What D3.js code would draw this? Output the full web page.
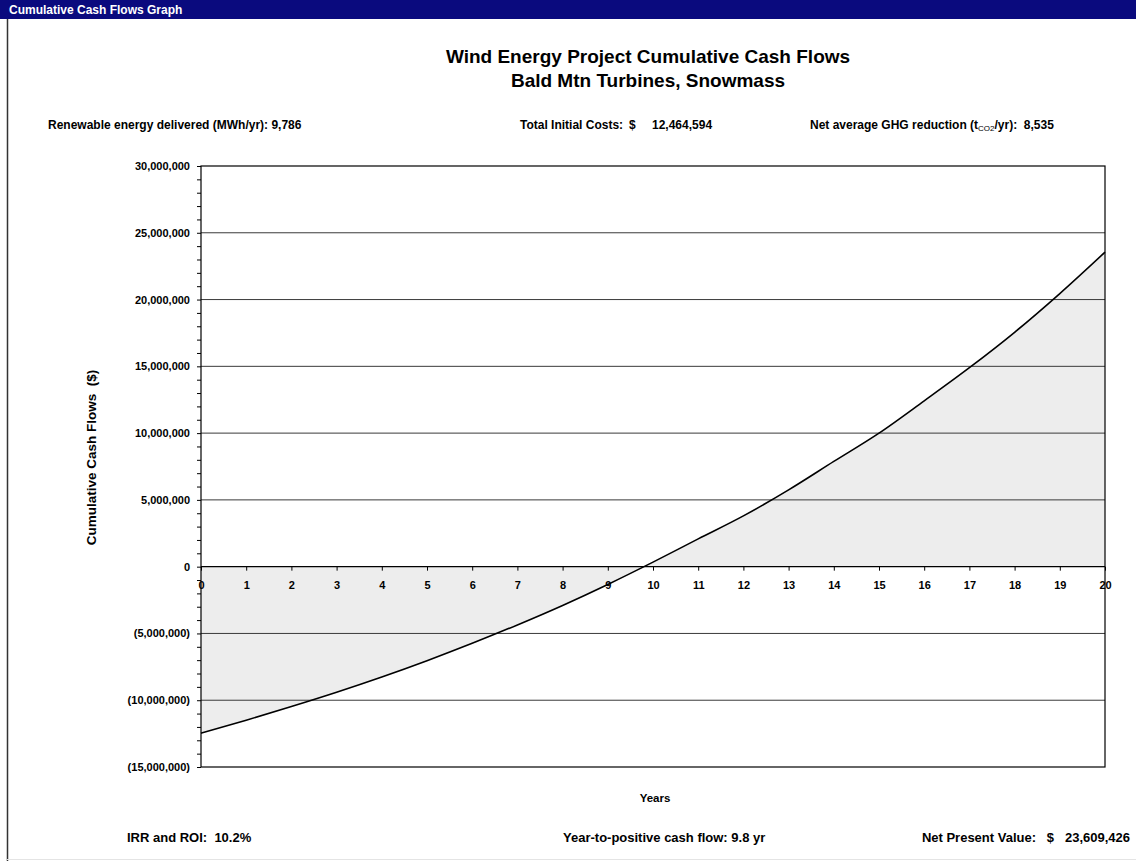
<!DOCTYPE html>
<html>
<head>
<meta charset="utf-8">
<script src="https://cdn.jsdelivr.net/npm/d3@7"></script>
<style>
  html, body { margin: 0; padding: 0; background: #ffffff; }
  svg { display: block; font-family: "Liberation Sans", Arial, Helvetica, sans-serif; }
  svg text { white-space: pre; }
</style>
</head>
<body>
<svg id="chart" width="1136" height="861"></svg>
<script>
// Project years and the cumulative cash position at the end of each year ($)
const years = [0, 1, 2, 3, 4, 5, 6, 7, 8, 9, 10, 11, 12, 13, 14, 15, 16, 17, 18, 19, 20];
const cumulativeCashFlow = [
  -12464594, -11500000, -10470000, -9400000, -8260000, -7040000, -5740000,
  -4360000, -2900000, -1330000, 340000, 2080000, 3800000, 5750000,
  7880000, 10000000, 12420000, 14900000, 17550000, 20450000, 23550000
];

// Axis ticks
const yMajorTicks = [30000000, 25000000, 20000000, 15000000, 10000000, 5000000, 0,
                     -5000000, -10000000, -15000000];
const yMinorStep = 1000000;

// Summary figures shown above and below the plot
const renewableEnergy = "9,786";
const totalInitialCosts = "12,464,594";
const ghgReduction = "8,535";
const irrRoi = "10.2%";
const yearToPositive = "9.8 yr";
const netPresentValue = "23,609,426";

const svg = d3.select("#chart");
const W = 1136, H = 861;

// Window frame: title bar and left edge
svg.append("rect").attr("x", 0).attr("y", 0).attr("width", W).attr("height", H).attr("fill", "#ffffff");
svg.append("rect").attr("x", 0).attr("y", 0).attr("width", W).attr("height", 19).attr("fill", "#0a0a7e");
svg.append("text").attr("x", 9).attr("y", 14)
  .attr("fill", "#ffffff").attr("font-weight", "bold").attr("font-size", 12)
  .text("Cumulative Cash Flows Graph");
svg.append("line").attr("x1", 7.5).attr("x2", 7.5).attr("y1", 19).attr("y2", H)
  .attr("stroke", "#333").attr("stroke-width", 1.5);
svg.append("line").attr("x1", 7).attr("x2", W).attr("y1", 859.5).attr("y2", 859.5)
  .attr("stroke", "#e4e4e4").attr("stroke-width", 1);

// Chart title
svg.append("text").attr("x", 648).attr("y", 63).attr("text-anchor", "middle")
  .attr("font-weight", "bold").attr("font-size", 19)
  .text("Wind Energy Project Cumulative Cash Flows");
svg.append("text").attr("x", 648).attr("y", 87).attr("text-anchor", "middle")
  .attr("font-weight", "bold").attr("font-size", 19)
  .text("Bald Mtn Turbines, Snowmass");

// Header figures
const info = svg.append("g").attr("font-weight", "bold").attr("font-size", 12).attr("fill", "#000");
info.append("text").attr("x", 48).attr("y", 129)
  .text("Renewable energy delivered (MWh/yr): " + renewableEnergy);
info.append("text").attr("x", 520).attr("y", 129).text("Total Initial Costs:");
info.append("text").attr("x", 629).attr("y", 129).text("$");
info.append("text").attr("x", 652).attr("y", 129).text(totalInitialCosts);
const ghg = info.append("text").attr("x", 810).attr("y", 129);
ghg.append("tspan").text("Net average GHG reduction (t");
ghg.append("tspan").attr("font-size", 8).attr("dy", 2).attr("font-weight", "normal").text("CO2");
ghg.append("tspan").attr("dy", -2).text("/yr):  " + ghgReduction);

// Plot area
const plot = { left: 201, right: 1105, top: 166, bottom: 767 };
const x = d3.scaleLinear().domain([0, 20]).range([plot.left, plot.right]);
const y = d3.scaleLinear().domain([-15000000, 30000000]).range([plot.bottom, plot.top]);

const gridValues = yMajorTicks.filter(v => v !== 30000000 && v !== -15000000 && v !== 0);

// Shaded area between the cash-flow curve and zero
const pts = years.map((yr, i) => [yr, cumulativeCashFlow[i]]);
const area = d3.area()
  .x(d => x(d[0])).y0(y(0)).y1(d => y(d[1]))
  .curve(d3.curveMonotoneX);
svg.append("path").datum(pts).attr("d", area).attr("fill", "#ededed");

// Horizontal gridlines
svg.append("g").selectAll("line")
  .data(gridValues)
  .join("line")
  .attr("x1", plot.left).attr("x2", plot.right)
  .attr("y1", d => y(d)).attr("y2", d => y(d))
  .attr("stroke", "#3a3a3a").attr("stroke-width", 1);

// Cash-flow curve
const line = d3.line().x(d => x(d[0])).y(d => y(d[1])).curve(d3.curveMonotoneX);
svg.append("path").datum(pts).attr("d", line)
  .attr("fill", "none").attr("stroke", "#000").attr("stroke-width", 1.6);

// Plot frame
svg.append("rect")
  .attr("x", plot.left).attr("y", plot.top)
  .attr("width", plot.right - plot.left).attr("height", plot.bottom - plot.top)
  .attr("fill", "none").attr("stroke", "#000").attr("stroke-width", 1.2);

// Y axis with minor ticks every 1,000,000
const fmtY = v => v < 0 ? "(" + d3.format(",")(-v) + ")" : d3.format(",")(v);
const yMinor = d3.range(-15, 31).map(k => k * yMinorStep);
const yAxis = d3.axisLeft(y).tickValues(yMinor).tickSize(4)
  .tickFormat(v => yMajorTicks.includes(v) ? fmtY(v) : "");
const gy = svg.append("g").attr("transform", `translate(${plot.left},0)`).call(yAxis);
gy.select(".domain").remove();
gy.selectAll(".tick line").attr("stroke", "#000");
gy.selectAll(".tick text").attr("x", -11).attr("font-size", 11).attr("font-weight", "bold")
  .attr("font-family", "Liberation Sans, Arial, sans-serif").attr("fill", "#000");

// Zero line with year ticks
const xAxis = d3.axisBottom(x).tickValues(years).tickSize(4).tickFormat(d3.format("d"));
const gx = svg.append("g").attr("transform", `translate(0,${y(0)})`).call(xAxis);
gx.select(".domain").attr("stroke", "#000").attr("stroke-width", 1.4).attr("d", `M${plot.left},0H${plot.right}`);
gx.selectAll(".tick line").attr("stroke", "#000");
gx.selectAll(".tick text").attr("y", 15).attr("font-size", 11).attr("font-weight", "bold")
  .attr("font-family", "Liberation Sans, Arial, sans-serif").attr("fill", "#000");

// Axis titles
svg.append("text")
  .attr("transform", `translate(96,${(plot.top + plot.bottom) / 2 - 9}) rotate(-90)`)
  .attr("text-anchor", "middle").attr("font-weight", "bold").attr("font-size", 13.5)
  .text("Cumulative Cash Flows  ($)");
svg.append("text").attr("x", 655).attr("y", 802).attr("text-anchor", "middle")
  .attr("font-weight", "bold").attr("font-size", 11.5).text("Years");

// Footer figures
const foot = svg.append("g").attr("font-weight", "bold").attr("font-size", 13).attr("fill", "#000");
foot.append("text").attr("x", 127).attr("y", 842)
  .text("IRR and ROI:  " + irrRoi);
foot.append("text").attr("x", 563).attr("y", 842)
  .text("Year-to-positive cash flow: " + yearToPositive);
foot.append("text").attr("x", 1130).attr("y", 842).attr("text-anchor", "end")
  .text("Net Present Value:   $   " + netPresentValue);
</script>
</body>
</html>
